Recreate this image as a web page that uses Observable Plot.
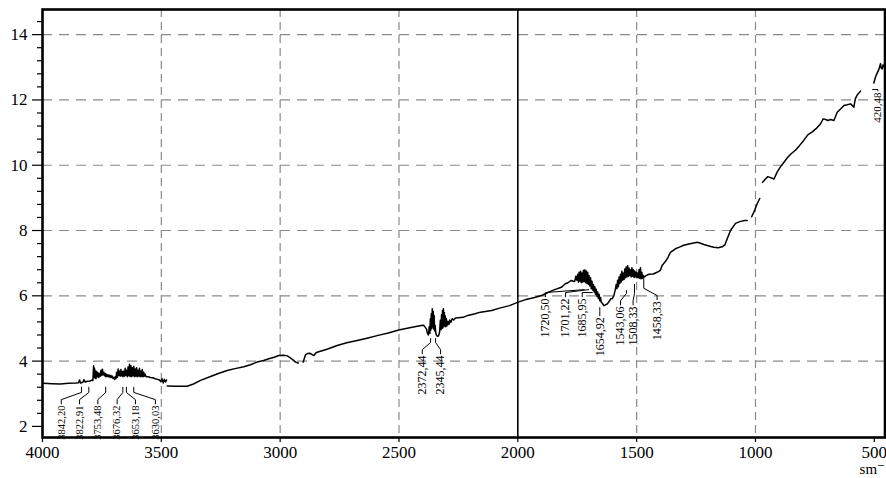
<!DOCTYPE html>
<html><head><meta charset="utf-8">
<script src="https://cdn.jsdelivr.net/npm/d3@7"></script>
<script src="https://cdn.jsdelivr.net/npm/@observablehq/plot@0.6"></script>
<style>
html,body{margin:0;padding:0;background:#fff;}
#chart svg{display:block;}
#chart svg, #chart svg text { font-family: "Liberation Serif", "Times New Roman", "DejaVu Serif", serif !important; }
</style>
</head><body><div id="chart"></div>
<script>
// Spectrum (null = break in the trace)
const wavenumber = [
3996,3960,3925,3890,3860,3848,3844,3840,3830,3826,3820,3810,3800,3792,3788,3785,3783,3781,3779,3777,3775,3772,3769,3766,3763,3760,3757,3754,3751,3748,3745,3742,3739,3736,3733,3730,3727,3724,3721,3718,3715,3712,3709,3706,3703,3700,3697,3694,3691,3688,3685,3682,3679,3676,3673,3670,3667,3664,3661,3658,3655,3652,3649,3646,3643,3640,3637,3634,3631,3628,3625,3622,3619,3616,3613,3610,3607,3604,3601,3598,3595,3592,3589,3586,3583,3580,3577,3574,3571,3568,3564,3556,3546,3536,3526,3516,3508,3502,3497,3492,3487,3482,3478,null,
3475,3440,3391,3365,3335,3293,3260,3223,3190,3153,3125,3097,3070,3048,3025,3006,2985,2970,2957,2945,2935,2924,null,
2903,2893,2885,2875,2865,2858,2850,2844,2800,2760,2720,2676,2630,2592,2545,2501,2450,2406,2396,2390,2384,2380,2376,2373,2370,2368,2366,2364,2362,2360,2358,2356,2354,2352,2350,2348,2345,2341,2337,2333,2329,2326,2323,2321,2319,2317,2315,2313,2311,2309,2307,2305,2303,2301,2298,2294,2290,2286,2282,2276,2270,2262,2230,2210,2180,2157,2110,2073,2035,2001,1965,1930,1900,1873,1845,1817,1800,1789,1775,1764,1760,1756,1752,1748,1745,1742,1739,1736,1733,1730,1727,1724,1721,1718,1715,1712,1709,1706,1703,1700,1697,1694,1691,1688,1685,1682,1679,1676,1673,1670,1667,1664,1661,1658,1655,1652,1649,1645,1638,1632,1624,1618,1610,1602,1596,1590,1586,1583,1580,1577,1574,1571,1568,1565,1562,1559,1556,1553,1550,1547,1544,1541,1538,1535,1532,1529,1526,1523,1520,1517,1514,1511,1508,1505,1502,1499,1496,1493,1490,1487,1484,1481,1478,1475,1472,1468,1460,1449,1430,1414,1400,1393,1379,1368,1358,1346,1337,1320,1302,1280,1260,1245,1231,1217,1203,1188,1175,1157,1140,1128,1119,1105,1084,1063,1045,1035,1021,null,
1016,1004,993,982,974,null,
970,958,948,937,922,909,895,880,867,850,832,815,797,780,761,745,726,715,705,695,684,670,656,642,628,614,600,586,580,572,558,544,null,
502,495,488,480,474,471,467,463,460,457
];
const transmittance = [
3.32,3.31,3.30,3.32,3.33,3.34,3.42,3.33,3.35,3.43,3.36,3.38,3.39,3.42,3.40,3.86,3.50,3.78,3.48,3.70,3.46,3.68,3.52,3.64,3.50,3.62,3.54,3.72,3.56,3.75,3.58,3.66,3.55,3.62,3.52,3.60,3.53,3.58,3.52,3.57,3.50,3.56,3.50,3.54,3.47,3.50,3.44,3.52,3.46,3.66,3.50,3.76,3.56,3.70,3.54,3.74,3.55,3.68,3.52,3.70,3.54,3.78,3.56,3.72,3.52,3.82,3.55,3.90,3.53,3.86,3.52,3.80,3.55,3.84,3.52,3.76,3.54,3.80,3.52,3.72,3.54,3.78,3.52,3.70,3.53,3.74,3.52,3.66,3.54,3.60,3.52,3.52,3.50,3.49,3.46,3.44,3.42,3.37,3.46,3.33,3.44,3.36,3.42,null,
3.24,3.23,3.23,3.30,3.41,3.53,3.62,3.71,3.77,3.83,3.89,3.97,4.02,4.07,4.12,4.17,4.18,4.16,4.10,4.03,3.97,3.94,null,
3.97,4.20,4.23,4.24,4.20,4.17,4.25,4.27,4.37,4.48,4.56,4.63,4.71,4.78,4.86,4.95,5.03,5.09,5.10,5.04,4.98,4.84,4.80,5.05,4.85,5.30,4.95,5.45,5.00,5.60,5.05,5.52,4.98,5.40,4.92,5.10,4.85,4.78,4.76,4.78,4.90,5.25,4.96,5.42,5.00,5.55,5.02,5.60,5.08,5.48,5.06,5.38,5.05,5.30,5.08,5.22,5.12,5.26,5.18,5.30,5.26,5.32,5.34,5.40,5.45,5.50,5.55,5.63,5.70,5.80,5.89,5.95,6.01,6.10,6.19,6.26,6.37,6.40,6.47,6.44,6.45,6.60,6.48,6.66,6.42,6.72,6.45,6.75,6.40,6.70,6.42,6.78,6.44,6.80,6.40,6.76,6.38,6.72,6.35,6.62,6.30,6.55,6.22,6.45,6.18,6.35,6.12,6.28,6.05,6.20,5.98,6.12,5.92,6.05,5.85,5.95,5.80,5.78,5.70,5.72,5.75,5.80,5.90,5.92,6.00,6.18,6.35,6.22,6.48,6.28,6.58,6.38,6.66,6.42,6.75,6.48,6.70,6.50,6.82,6.55,6.88,6.58,6.92,6.60,6.85,6.62,6.80,6.58,6.86,6.60,6.80,6.56,6.76,6.58,6.72,6.56,6.70,6.55,6.80,6.54,6.86,6.52,6.72,6.54,6.62,6.58,6.62,6.66,6.67,6.72,6.78,6.93,7.05,7.18,7.33,7.39,7.44,7.49,7.55,7.59,7.62,7.64,7.61,7.57,7.54,7.51,7.49,7.47,7.50,7.57,7.75,8.00,8.22,8.28,8.31,8.31,null,
8.30,8.42,8.61,8.82,8.98,null,
9.05,9.48,9.58,9.65,9.62,9.58,9.79,9.95,10.09,10.22,10.35,10.46,10.60,10.76,10.93,11.02,11.12,11.27,11.42,11.40,11.37,11.40,11.37,11.62,11.72,11.83,11.85,11.88,11.78,12.03,12.15,12.27,null,
12.34,12.52,12.70,12.82,12.95,13.11,12.98,12.95,13.08,13.02
];

// Axis ticks
const xTicks = [4000, 3500, 3000, 2500, 2000, 1500, 1000, 500];
const yTicks = [2, 4, 6, 8, 10, 12, 14];
const yMinor = [2.4,2.8,3.2,3.6,4.4,4.8,5.2,5.6,6.4,6.8,7.2,7.6,8.4,8.8,9.2,9.6,10.4,10.8,11.2,11.6,12.4,12.8,13.2,13.6,14.4];
const gridY = [4, 6, 8, 10, 12, 14];
const gridX = [3500, 3000, 2500, 1500, 1000];
const solidX = [2000];
const unitLabel = "sm⁻";

// Peak annotations
const peakLabels = ["3842,20","3822,91","3753,48","3676,32","3653,18","3630,03","2372,44","2345,44","1720,50","1701,22","1685,95","1654,92","1543,06","1508,33","1458,33","420,48"];
const leaderAt  = [3836, 3805, 3734, 3662, 3647, 3616, 2367, 2346, 1720, 1701, 1686, 1655, 1543, 1509, 1470, 508];
const leaderEnd = [3.20, 3.20, 3.20, 3.20, 3.20, 3.20, 4.69, 4.69, 6.19, 6.19, 6.10, 5.64, 6.16, 6.35, 6.59, 12.32];
const labelAt   = [3921, 3844, 3767, 3686, 3609, 3525, 2402, 2325, 1884, 1799, 1729, 1655, 1568, 1515, 1414, 485];
const labelTop  = [2.64, 2.64, 2.64, 2.64, 2.64, 2.64, 4.17, 4.17, 5.92, 5.92, 5.92, 5.34, 5.67, 5.67, 5.83, 12.23];

const annotations = peakLabels.map((label, i) => ({label, at: leaderAt[i], end: leaderEnd[i], lx: labelAt[i], top: labelTop[i],
  size: leaderAt[i] > 3000 ? 10.5 : (leaderAt[i] < 1000 ? 11 : 12)}));
const leaderPts = annotations.flatMap(a => {
  const p2 = Math.min(a.top + 0.18, a.end), p3 = Math.min(a.top + 0.4, a.end);
  return [
    {id: a.label, x: a.lx, y: a.top + 0.05},
    {id: a.label, x: a.lx, y: p2},
    {id: a.label, x: a.at, y: p3},
    {id: a.label, x: a.at, y: a.end}
  ];
});

const idx = wavenumber.map((_, i) => i);
const serif = "'Liberation Serif', 'Times New Roman', serif";

const chart = Plot.plot({
  width: 886, height: 478,
  marginLeft: 42, marginRight: 1.5, marginTop: 9, marginBottom: 41,
  style: {fontFamily: serif, fontSize: "17px", background: "white", color: "black"},
  x: {domain: [4000, 455], label: null},
  y: {domain: [1.66, 14.77], label: null},
  marks: [
    Plot.ruleY(gridY, {stroke: "#8a8a8a", strokeWidth: 1.2, strokeDasharray: "10,7"}),
    Plot.ruleX(gridX, {stroke: "#8a8a8a", strokeWidth: 1.2, strokeDasharray: "8,5"}),
    Plot.ruleX(solidX, {stroke: "black", strokeWidth: 1.6}),
    Plot.axisY({ticks: yMinor, tickSize: 5, tickFormat: () => "", strokeWidth: 1.2, label: null}),
    Plot.axisY({ticks: yTicks, tickSize: 10, tickPadding: 5, strokeWidth: 1.2, label: null, fontFamily: serif, fontSize: 17}),
    Plot.axisX({ticks: xTicks, tickSize: 5, tickPadding: 3, strokeWidth: 1.2, label: null, tickFormat: d3.format("d"), fontFamily: serif, fontSize: 17}),
    Plot.line(idx, {x: i => wavenumber[i], y: i => transmittance[i], stroke: "black", strokeWidth: 1.5}),
    Plot.line(leaderPts, {x: "x", y: "y", z: "id", stroke: "black", strokeWidth: 1}),
    Plot.text(annotations, {x: "lx", y: "top", text: "label", rotate: -90, textAnchor: "end", fontSize: "size", fill: "black", fontFamily: serif}),
    Plot.text([unitLabel], {frameAnchor: "bottom-right", dy: 36, textAnchor: "end", fontSize: 15, fill: "black", fontFamily: serif}),
    Plot.frame({stroke: "black", strokeWidth: 2.6})
  ]
});
document.getElementById("chart").appendChild(chart);
</script></body></html>
